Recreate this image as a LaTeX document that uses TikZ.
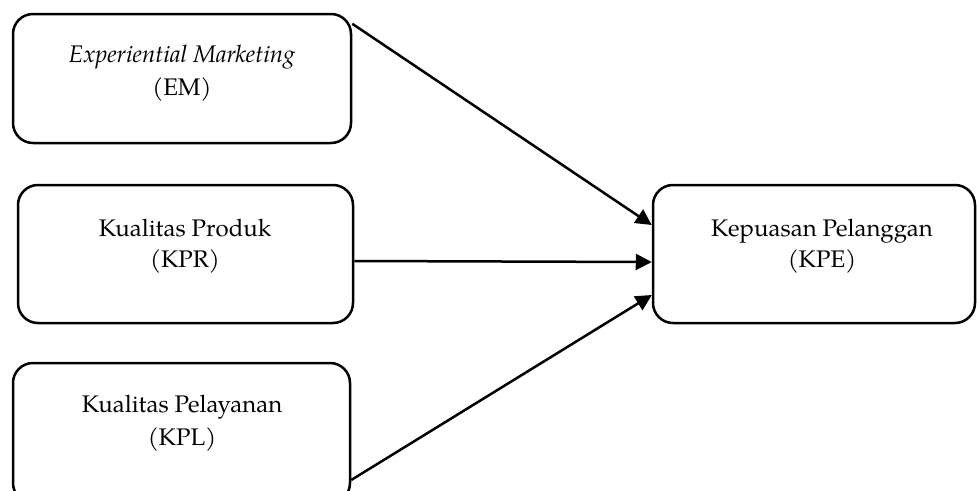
\documentclass[tikz,border=0pt]{standalone}
\usepackage{fontspec}
\setmainfont{TeX Gyre Pagella}
\usetikzlibrary{arrows.meta,calc}
\tikzset{
  varbox/.style={draw=black, line width=2.5pt, rounded corners=20pt, inner sep=0pt},
  vartext/.style={align=center, inner sep=0pt, font=\fontsize{24}{31}\selectfont},
  conn/.style={line width=2.5pt, -{Triangle[length=16pt,width=16pt]}}
}
\begin{document}
\begin{tikzpicture}[x=1pt,y=-1pt]
\useasboundingbox (0,0) rectangle (977,490);
\clip (0,0) rectangle (977,490);
\node[varbox, minimum width=338pt, minimum height=129pt] (em) at (182,78.5) {};
\node[varbox, minimum width=335pt, minimum height=138pt] (kpr) at (185.5,254) {};
\node[varbox, minimum width=337pt, minimum height=140pt] (kpl) at (181.5,433) {};
\node[varbox, minimum width=322pt, minimum height=138pt] (kpe) at (814,254) {};
\node[vartext, anchor=base, font=\fontsize{24}{33}\selectfont] (temText) at (182,95) {\textit{Experiential Marketing}\\(EM)};
\node[vartext, anchor=base] (tkprText) at (185,267) {Kualitas Produk\\(KPR)};
\node[vartext, anchor=base, font=\fontsize{24}{33}\selectfont] (tkplText) at (182,445) {Kualitas Pelayanan\\(KPL)};
\node[vartext, anchor=base] (tkpeText) at (822,267) {Kepuasan Pelanggan\\(KPE)};
\draw[conn] ($(em.north east)+(0,11)$) -- ($(kpe.west)+(0,-29)$);
\draw[conn] ($(kpr.east)+(0,7)$) -- ($(kpe.west)+(0,8)$);
\draw[conn] ($(kpl.east)+(0,47)$) -- ($(kpe.west)+(0,41)$);
\end{tikzpicture}
\end{document}
